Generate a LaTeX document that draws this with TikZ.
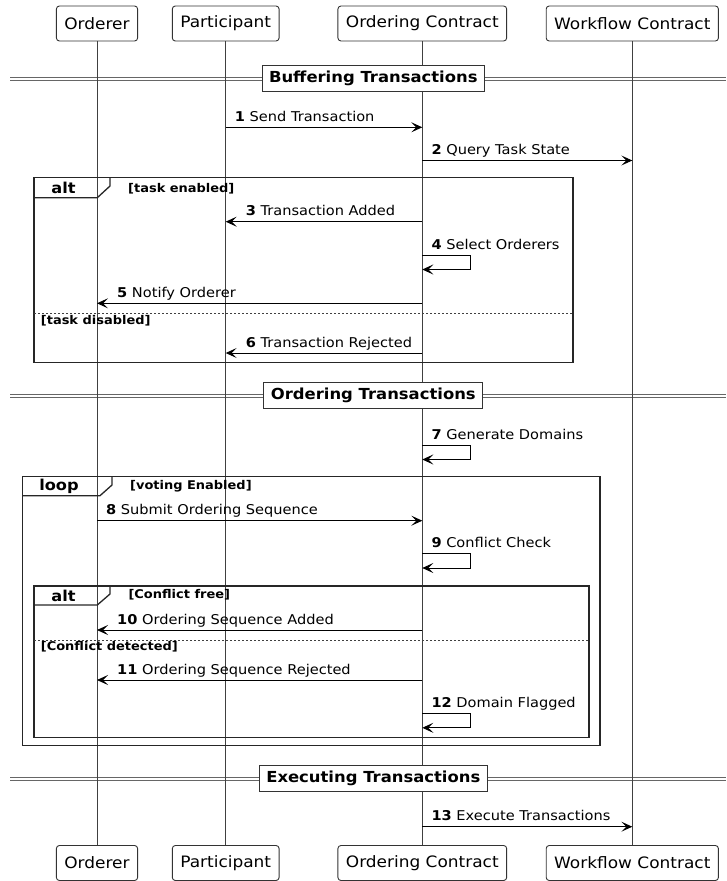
\documentclass[tikz,border=0pt]{standalone}
\usepackage{fontspec}
\setmainfont{DejaVu Sans}[FakeStretch=1.08]
\usetikzlibrary{arrows.meta,calc}

\tikzset{
  head/.style={draw=black!80, line width=0.9pt, rounded corners=3pt, minimum height=35pt, inner xsep=8pt, font=\fontsize{15.7}{19}\selectfont},
  life/.style={draw=black!75, line width=0.9pt},
  msg/.style={line width=0.9pt, -{Stealth[length=11pt,width=10pt,inset=5pt]}},
  sect/.style={draw=black!80, fill=white, line width=1pt, inner xsep=7pt, minimum height=26pt, font=\fontsize{15.2}{18}\selectfont\bfseries},
  rule/.style={draw=black!60, double=white, double distance=2pt, line width=1pt},
  frame/.style={draw=black!85, line width=1.3pt},
  split/.style={draw=black!75, line width=1pt, dash pattern=on 2pt off 2pt},
  lbl/.style={anchor=base west, inner sep=0pt, font=\fontsize{13.5}{16}\selectfont},
  cond/.style={anchor=base west, inner sep=0pt, font=\fontsize{12}{15}\selectfont\bfseries},
  tab/.style={inner sep=0pt, font=\fontsize{15}{18}\selectfont\bfseries},
}

% message to the right: from, to, y, number, text
\newcommand\sendmsg[5]{%
  \draw[msg] (#1 |- 0,#3) -- (#2 |- 0,#3);
  \node[lbl] (m#4) at ($(#1 |- 0,#3)+(9,-6)$) {{\bfseries #4} #5};}
% message to the left: from, to, y, number, text
\newcommand\backmsg[5]{%
  \draw[msg] (#1 |- 0,#3) -- (#2 |- 0,#3);
  \node[lbl] (m#4) at ($(#2 |- 0,#3)+(20,-6)$) {{\bfseries #4} #5};}
% message to itself: lifeline, y, number, text
\newcommand\selfmsg[4]{%
  \draw[msg] (#1 |- 0,#2) -- ++(48.5,0) -- ++(0,14.5) -- ($(#1 |- 0,#2)+(0,14.5)$);
  \node[lbl] (m#3) at ($(#1 |- 0,#2)+(9,-6)$) {{\bfseries #3} #4};}

\begin{document}
\begin{tikzpicture}[x=1pt,y=-1pt]
  %%%%% START %%%%%
  \useasboundingbox (0,0) rectangle (726,881);

  % section rules (under the lifelines)
  \draw[rule] (10,78.5) -- (726,78.5);
  \draw[rule] (10,396) -- (726,396);
  \draw[rule] (10,779) -- (726,779);

  % participants, top and bottom
  \node[head] (ord) at (97,23.5) {Orderer};
  \node[head] (par) at (225.7,23.5) {Participant};
  \node[head] (occ) at (422.3,23.5) {Ordering Contract};
  \node[head] (wfc) at (632.3,23.5) {Workflow Contract};
  \node[head] (ordB) at (97,863) {Orderer};
  \node[head] (parB) at (225.7,863) {Participant};
  \node[head] (occB) at (422.3,863) {Ordering Contract};
  \node[head] (wfcB) at (632.3,863) {Workflow Contract};

  \draw[life] (ord) -- (ordB);
  \draw[life] (par) -- (parB);
  \draw[life] (occ) -- (occB);
  \draw[life] (wfc) -- (wfcB);

  % section titles
  \node[sect] (buf) at (373.3,78.3) {Buffering Transactions};
  \node[sect] (ordT) at (373.3,395.7) {Ordering Transactions};
  \node[sect] (exe) at (373.3,778) {Executing Transactions};

  %% buffering
  \sendmsg{par}{occ}{127.3}{1}{Send Transaction}
  \sendmsg{occ}{wfc}{160.5}{2}{Query Task State}

  \draw[frame] (34,177.7) rectangle (573,362.7);
  \draw[frame] (34,197.7) -- (97.3,197.7) -- (110,186) -- (110,177.7);
  \node[tab] (altA) at (63.5,188) {alt};
  \node[cond] (cA1) at (128,192) {[task enabled]};
  \draw[split] (34,313.7) -- (573,313.7);
  \node[cond] (cA2) at (40.7,324) {[task disabled]};

  \backmsg{occ}{par}{221.7}{3}{Transaction Added}
  \selfmsg{occ}{255}{4}{Select Orderers}
  \backmsg{occ}{ord}{303.3}{5}{Notify Orderer}
  \backmsg{occ}{par}{353}{6}{Transaction Rejected}

  %% ordering
  \selfmsg{occ}{445}{7}{Generate Domains}

  \draw[frame] (22.7,476.7) rectangle (600,745.3);
  \draw[frame] (22.7,495.7) -- (100,495.7) -- (112,485) -- (112,476.7);
  \node[tab] (loopT) at (59,486.5) {loop};
  \node[cond] (cL) at (130,489.5) {[voting Enabled]};

  \sendmsg{ord}{occ}{520.7}{8}{Submit Ordering Sequence}
  \selfmsg{occ}{553.5}{9}{Conflict Check}

  \draw[frame] (34,586) rectangle (589,737.3);
  \draw[frame] (34,605) -- (97.3,605) -- (110,594) -- (110,586);
  \node[tab] (altB) at (63.5,595.5) {alt};
  \node[cond] (cB1) at (128.3,598.5) {[Conflict free]};
  \draw[split] (34,640) -- (589,640);
  \node[cond] (cB2) at (40.7,650.5) {[Conflict detected]};

  \backmsg{occ}{ord}{630}{10}{Ordering Sequence Added}
  \backmsg{occ}{ord}{680}{11}{Ordering Sequence Rejected}
  \selfmsg{occ}{713.3}{12}{Domain Flagged}

  %% executing
  \sendmsg{occ}{wfc}{826.7}{13}{Execute Transactions}

  %%%%% END %%%%%
\end{tikzpicture}
\end{document}
